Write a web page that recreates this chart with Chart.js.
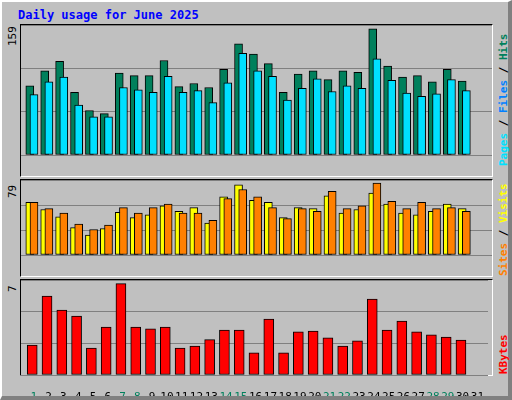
<!DOCTYPE html>
<html>
<head>
<meta charset="utf-8">
<script src="https://cdn.jsdelivr.net/npm/chart.js@4"></script>
<style>
	body { margin: 0; background: #fff; }
	#frame { position: absolute; left: 0; top: 0; width: 506px; height: 394px; background: #c0c0c0;
		border-style: solid; border-width: 2px 4px 4px 2px; border-color: #ffffff #808080 #808080 #ffffff; font-family: 'DejaVu Sans Mono', monospace; }
	.title { position: absolute; left: 16px; top: 6px; color: #0000ff; font-weight: bold; font-size: 12px; }
	.panel { position: absolute; left: 18px; width: 471px; border: 1px solid; border-color: #000 #fff #fff #000; }
	.vl { position: absolute; transform: rotate(-90deg); transform-origin: left top; white-space: nowrap; font-size: 11px; }
	canvas { position: absolute; }
</style>
</head>
<body>
<div id="frame">
	<div class="title">Daily usage for June 2025</div>
	<div class="panel" style="top:22px;height:151px"></div>
	<div class="panel" style="top:177px;height:96px"></div>
	<div class="panel" style="top:277px;height:95px"></div>
	<div class="vl" style="left:4px;top:44px">159</div>
	<div class="vl" style="left:4px;top:196px">79</div>
	<div class="vl" style="left:4px;top:290px">7</div>
	<div class="vl" style="left:495px;top:164px;font-weight:bold"><span style="color:#00e0ff">Pages</span> / <span style="color:#0080ff">Files</span> / <span style="color:#00805c">Hits</span></div>
	<div class="vl" style="left:495px;top:274px;font-weight:bold"><span style="color:#ff8000">Sites</span> / <span style="color:#ffff00">Visits</span></div>
	<div class="vl" style="left:495px;top:372px;font-weight:bold"><span style="color:#ff0000">KBytes</span></div>
	<canvas id="c1" style="left:19px;top:23px"></canvas>
	<canvas id="c2" style="left:19px;top:178px"></canvas>
	<canvas id="c3" style="left:19px;top:278px"></canvas>
</div>
<script>
const days = Array.from({ length: 31 }, (_, i) => i + 1);
const weekendDays = [1, 7, 8, 14, 15, 21, 22, 28, 29];
const hits = [87, 106, 118, 79, 56, 52, 103, 100, 100, 119, 86, 90, 85, 108, 140, 127, 115, 79, 102, 106, 95, 106, 104, 159, 112, 98, 100, 92, 108, 93, 0];
const files = [76, 92, 98, 63, 48, 48, 85, 82, 79, 99, 79, 81, 66, 91, 128, 106, 99, 69, 84, 96, 80, 87, 84, 121, 94, 78, 74, 77, 95, 81, 0];
const visits = [58, 50, 42, 30, 22, 29, 47, 41, 44, 54, 48, 52, 35, 64, 77, 60, 58, 41, 52, 51, 65, 46, 50, 68, 56, 46, 44, 48, 56, 51, 0];
const sites = [58, 51, 46, 34, 28, 33, 52, 46, 52, 56, 46, 46, 38, 62, 72, 64, 52, 40, 51, 48, 70, 51, 54, 79, 59, 51, 58, 51, 52, 48, 0];
const kbytes = [2.3, 6.05, 4.98, 4.52, 2.07, 3.68, 7.0, 3.68, 3.53, 3.68, 2.07, 2.22, 2.71, 3.45, 3.45, 1.69, 4.29, 1.69, 3.3, 3.37, 2.84, 2.22, 2.61, 5.82, 3.45, 4.14, 3.3, 3.07, 2.91, 2.68, 0];

function series(values, offset) {
	return values.map((v, i) => ({ x: days[i] + offset, y: v }));
}

function barSet(values, offset, color, order, width) {
	return { data: series(values, offset), backgroundColor: color, borderColor: '#000', borderWidth: 1,
		barThickness: width, order, borderSkipped: false, grouped: false };
}

function makeChart(id, w, h, datasets, yMax, showX) {
	const canvas = document.getElementById(id);
	canvas.width = w; canvas.height = h;
	canvas.style.width = w + 'px'; canvas.style.height = h + 'px';
	new Chart(canvas, {
		type: 'bar',
		data: { datasets },
		options: {
			responsive: false, animation: false, events: [],
			layout: { padding: 0 },
			plugins: { legend: { display: false }, tooltip: { enabled: false } },
			scales: {
				x: {
					type: 'linear', min: 0.13, max: 31.72, display: showX, offset: false,
					grid: { display: false }, border: { display: false },
					afterBuildTicks: (axis) => { axis.ticks = days.map((d) => ({ value: d })); },
					afterFit: (axis) => { axis.height = 21; },
					ticks: {
						autoSkip: false, maxRotation: 0, padding: 8,
						font: { family: 'DejaVu Sans Mono', size: 11 },
						color: (ctx) => (weekendDays.includes(ctx.tick.value) ? '#00805c' : '#000'),
						callback: (v) => String(v),
					},
				},
				y: {
					display: true, min: 0, max: yMax,
					afterBuildTicks: (axis) => { axis.ticks = [0, 1, 2, 3].map((k) => ({ value: yMax * k / 3 })); },
					ticks: { display: false },
					grid: { color: '#808080', drawTicks: false },
					border: { display: false },
				},
			},
		},
	});
}

makeChart('c1', 471, 151, [barSet(hits, -0.28, '#00805c', 1, 8), barSet(files, 0, '#00e0ff', 0, 8)], 163.7, false);
makeChart('c2', 471, 96, [barSet(visits, -0.28, '#ffff00', 1, 8), barSet(sites, 0, '#ff8000', 0, 8)], 82.4, false);
makeChart('c3', 471, 116, [barSet(kbytes, -0.11, '#ff0000', 0, 10)], 7.28, true);
</script>
</body>
</html>
